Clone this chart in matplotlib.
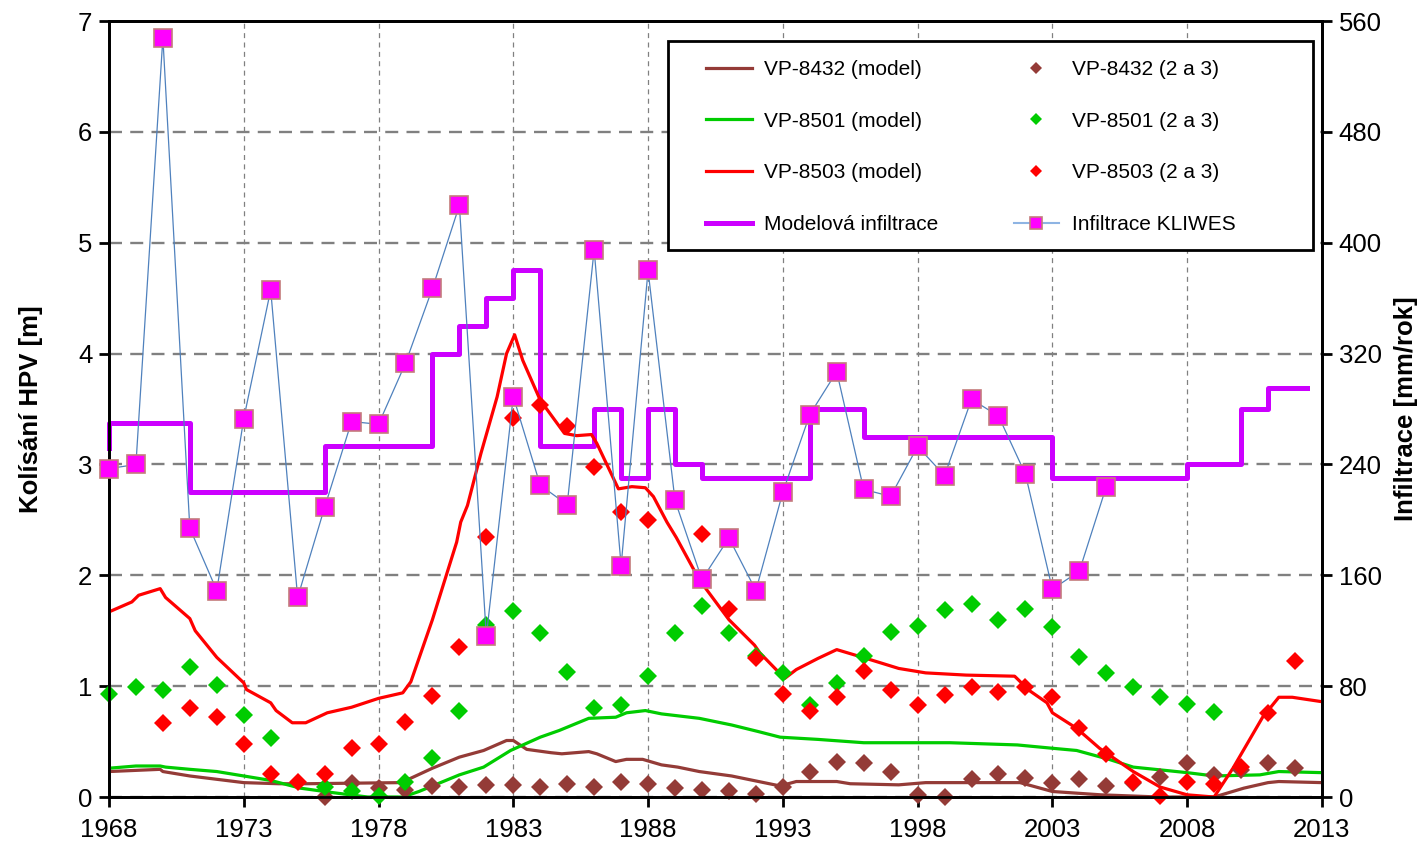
import numpy as np
import matplotlib.pyplot as plt
from matplotlib.lines import Line2D
from matplotlib.patches import Rectangle

plt.rcParams['font.family'] = ['Liberation Sans', 'DejaVu Sans']

# annual observations (2 a 3), 1968-2012
obs_years = np.arange(1968, 2013)
nan = np.nan
vp8432_obs = [nan, nan, nan, nan, nan, nan, nan, nan, 0.00, 0.13,
              0.08, 0.06, 0.10, 0.09, 0.11, 0.11, 0.09, 0.12, 0.09, 0.14,
              0.12, 0.08, 0.06, 0.05, 0.03, 0.09, 0.23, 0.32, 0.31, 0.23,
              0.02, 0.00, 0.16, 0.21, 0.17, 0.13, 0.16, 0.10, 0.13, 0.18,
              0.31, 0.20, 0.24, 0.31, 0.26]
vp8501_obs = [0.93, 0.99, 0.97, 1.17, 1.01, 0.74, 0.53, nan, 0.09, 0.05,
              0.01, 0.14, 0.35, 0.78, 1.55, 1.68, 1.48, 1.13, 0.80, 0.83,
              1.09, 1.48, 1.72, 1.48, 1.27, 1.12, 0.83, 1.03, 1.27, 1.49,
              1.54, 1.69, 1.74, 1.60, 1.70, 1.53, 1.26, 1.12, 0.99, 0.90,
              0.84, 0.77, nan, nan, nan]
vp8503_obs = [nan, nan, 0.67, 0.80, 0.72, 0.48, 0.21, 0.14, 0.21, 0.44,
              0.48, 0.68, 0.91, 1.35, 2.35, 3.42, 3.54, 3.35, 2.98, 2.57,
              2.50, nan, 2.37, 1.70, 1.25, 0.93, 0.78, 0.90, 1.14, 0.97,
              0.83, 0.92, 0.99, 0.95, 0.99, 0.90, 0.62, 0.39, 0.14, 0.01,
              0.14, 0.12, 0.27, 0.76, 1.23]

# model results
vp8432_mod_t = [1968.0, 1969.9, 1970.0, 1971.0, 1972.0, 1973.0, 1974.3, 1975.3,
                1978.8, 1979.2, 1980.0, 1981.0, 1981.9, 1982.75, 1983.0, 1983.5,
                1984.4, 1984.8, 1985.8, 1986.1, 1986.8, 1987.2, 1987.8, 1988.5,
                1989.1, 1989.9, 1991.1, 1992.1, 1992.9, 1993.5, 1995.0, 1995.5,
                1997.3, 1998.3, 2001.8, 2003.0, 2004.8, 2007.0, 2009.0, 2010.1,
                2011.0, 2011.4, 2013.0]
vp8432_mod = [0.23, 0.25, 0.23, 0.19, 0.16, 0.13, 0.12, 0.12,
              0.13, 0.17, 0.26, 0.36, 0.42, 0.51, 0.51, 0.43,
              0.40, 0.39, 0.41, 0.39, 0.32, 0.34, 0.34, 0.29,
              0.27, 0.23, 0.19, 0.14, 0.10, 0.14, 0.14, 0.12,
              0.11, 0.13, 0.13, 0.05, 0.02, 0.00, 0.00, 0.08,
              0.13, 0.14, 0.13]

vp8501_mod_t = [1968.0, 1969.0, 1969.9, 1970.1, 1971.0, 1972.0, 1973.0, 1974.0,
                1975.1, 1976.3, 1977.6, 1978.9, 1979.5, 1981.0, 1981.9, 1982.9,
                1984.0, 1984.7, 1985.8, 1986.8, 1987.2, 1987.9, 1988.5, 1989.9,
                1991.1, 1992.1, 1992.9, 1994.3, 1996.0, 1999.2, 2001.7, 2003.0,
                2003.9, 2005.1, 2006.0, 2008.0, 2009.0, 2010.7, 2011.4, 2013.0]
vp8501_mod = [0.26, 0.28, 0.28, 0.27, 0.25, 0.23, 0.19, 0.15,
              0.08, 0.04, 0.00, 0.00, 0.05, 0.20, 0.27, 0.42,
              0.54, 0.60, 0.71, 0.72, 0.76, 0.78, 0.75, 0.71,
              0.65, 0.59, 0.54, 0.52, 0.49, 0.49, 0.47, 0.44,
              0.42, 0.34, 0.27, 0.22, 0.19, 0.20, 0.23, 0.22]

vp8503_mod_t = [1968.0, 1968.85, 1969.1, 1969.9, 1970.1, 1971.0, 1971.2, 1972.0,
                1973.0, 1973.1, 1974.0, 1974.2, 1974.8, 1975.3, 1976.1, 1977.0,
                1978.0, 1978.9, 1979.2, 1980.0, 1980.9, 1981.05, 1981.3, 1981.8,
                1982.4, 1982.75, 1983.05, 1983.35, 1984.0, 1984.9, 1985.35, 1985.9,
                1986.1, 1986.9, 1987.4, 1987.9, 1988.2, 1988.7, 1989.05, 1989.9,
                1991.0, 1991.95, 1992.15, 1993.07, 1993.5, 1994.3, 1995.0, 1996.1,
                1997.3, 1998.3, 1999.8, 2001.6, 2002.15, 2002.8, 2003.0, 2003.9,
                2004.75, 2006.0, 2007.0, 2008.0, 2009.0, 2009.7, 2010.8, 2011.4,
                2011.9, 2013.0]
vp8503_mod = [1.67, 1.76, 1.82, 1.88, 1.80, 1.61, 1.50, 1.26,
              1.03, 0.97, 0.85, 0.78, 0.67, 0.67, 0.76, 0.81,
              0.89, 0.94, 1.04, 1.60, 2.30, 2.48, 2.63, 3.10,
              3.61, 4.00, 4.17, 3.94, 3.58, 3.28, 3.26, 3.27,
              3.19, 2.78, 2.80, 2.79, 2.71, 2.48, 2.34, 1.96,
              1.60, 1.37, 1.30, 1.07, 1.15, 1.25, 1.33, 1.25,
              1.16, 1.12, 1.10, 1.09, 0.96, 0.85, 0.76, 0.62,
              0.44, 0.23, 0.09, 0.02, 0.00, 0.26, 0.72, 0.90,
              0.90, 0.86]

# infiltration [mm/rok]
inf_model_t = [1968, 1968, 1971, 1976, 1980, 1981, 1982, 1983, 1984, 1986, 1987,
               1988, 1989, 1990, 1994, 1996, 2003, 2008, 2010, 2011, 2012.45]
inf_model = [252, 270, 220, 253, 320, 340, 360, 380, 253, 280, 230,
             280, 240, 230, 280, 260, 230, 240, 280, 295, 295]

kliwes_years = np.arange(1968, 2006)
kliwes = [237, 240, 548, 194, 149, 273, 366, 144, 209, 271,
          269, 313, 367, 427, 116, 289, 225, 211, 395, 167,
          380, 214, 157, 187, 149, 220, 276, 307, 222, 217,
          253, 232, 287, 275, 233, 150, 163, 224]

c_brown = '#943B37'
c_green = '#00CC00'
c_red = '#FF0000'
c_step = '#CC00FF'
c_sq = '#FF00FF'
c_sq_edge = '#C47C7C'
c_kl = '#4F81BD'

fig = plt.figure(figsize=(14.17, 8.42), dpi=100)
ax = fig.add_axes([0.0769, 0.0534, 0.8560, 0.9216])
ax_inf = ax.twinx()   # step line + grid, under the HPV series
ax_kl = ax.twinx()    # KLIWES markers, on top
ax_inf.set_zorder(-1)
ax_kl.set_zorder(1)
ax.patch.set_visible(False)

# groundwater levels
l1, = ax.plot(vp8432_mod_t, vp8432_mod, color=c_brown, lw=2.3)
l2, = ax.plot(vp8501_mod_t, vp8501_mod, color=c_green, lw=2.3)
l3, = ax.plot(vp8503_mod_t, vp8503_mod, color=c_red, lw=2.3)
for vals, col in [(vp8432_obs, c_brown), (vp8501_obs, c_green), (vp8503_obs, c_red)]:
    ax.plot(obs_years, vals, ls='none', marker='D', ms=9, mew=0, color=col,
            clip_on=False)

ax.set_xlim(1968, 2013)
ax.set_ylim(0, 7)
ax.set_xticks(np.arange(1968, 2014, 5))
ax.set_yticks(np.arange(0, 8, 1))
ax.tick_params(axis='both', direction='out', length=7, width=2, labelsize=18.5)
ax.tick_params(axis='x', pad=8)
ax.tick_params(axis='y', pad=5)
for sp in ax.spines.values():
    sp.set_linewidth(2)
    sp.set_color('black')
ax.set_ylabel('Kolísání HPV [m]', fontsize=18.5, fontweight='bold', labelpad=25)

# infiltration step line
l4, = ax_inf.plot(inf_model_t, inf_model, drawstyle='steps-post', color=c_step,
                  lw=3.6, clip_on=False)
ax_inf.set_ylim(0, 560)
ax_inf.set_yticks(np.arange(0, 561, 80))
ax_inf.tick_params(axis='y', direction='out', length=7, width=2, labelsize=18.5, pad=5)
ax_inf.xaxis.set_visible(True)
ax_inf.tick_params(axis='x', bottom=False, top=False, labelbottom=False, labeltop=False)
ax_inf.grid(axis='y', color='#808080', lw=1.7, ls=(0, (5.5, 3.5)))
ax_inf.grid(axis='x', color='#808080', lw=0.9, ls=(0, (4, 3.5)))
for sp in ax_inf.spines.values():
    sp.set_linewidth(2)
ax_inf.set_ylabel('Infiltrace [mm/rok]', fontsize=18.5, fontweight='bold', labelpad=9)

# KLIWES
ax_kl.plot(kliwes_years, kliwes, color=c_kl, lw=0.9, marker='s', ms=12.5,
           mfc=c_sq, mec=c_sq_edge, mew=1.2, clip_on=False)
ax_kl.set_ylim(0, 560)
ax_kl.set_axis_off()

# legend
ax_kl.add_patch(Rectangle((0.4608, 0.705), 0.5318, 0.269, transform=ax_kl.transAxes,
                          fc='white', ec='black', lw=2, zorder=10, clip_on=False))
h_d1 = Line2D([], [], ls='none', marker='D', ms=6, mew=0, color=c_brown)
h_d2 = Line2D([], [], ls='none', marker='D', ms=6, mew=0, color=c_green)
h_d3 = Line2D([], [], ls='none', marker='D', ms=6, mew=0, color=c_red)
h_kl = Line2D([], [], color='#8EB4E3', lw=1.5, marker='s', ms=8, mfc=c_sq,
              mec=c_sq_edge, mew=1.2)
handles = [l1, l2, l3, l4, h_d1, h_d2, h_d3, h_kl]
labels = ['VP-8432 (model)', 'VP-8501 (model)', 'VP-8503 (model)', 'Modelová infiltrace',
          'VP-8432 (2 a 3)', 'VP-8501 (2 a 3)', 'VP-8503 (2 a 3)', 'Infiltrace KLIWES']
leg = ax_kl.legend(handles, labels, ncol=2, loc='upper left',
                   bbox_to_anchor=(0.4922, 0.950), frameon=False, fontsize=15,
                   handlelength=2.2, handletextpad=0.6, columnspacing=3.6,
                   labelspacing=1.57, borderpad=0, borderaxespad=0)
leg.set_zorder(11)

fig.savefig('out.png', dpi=100)
